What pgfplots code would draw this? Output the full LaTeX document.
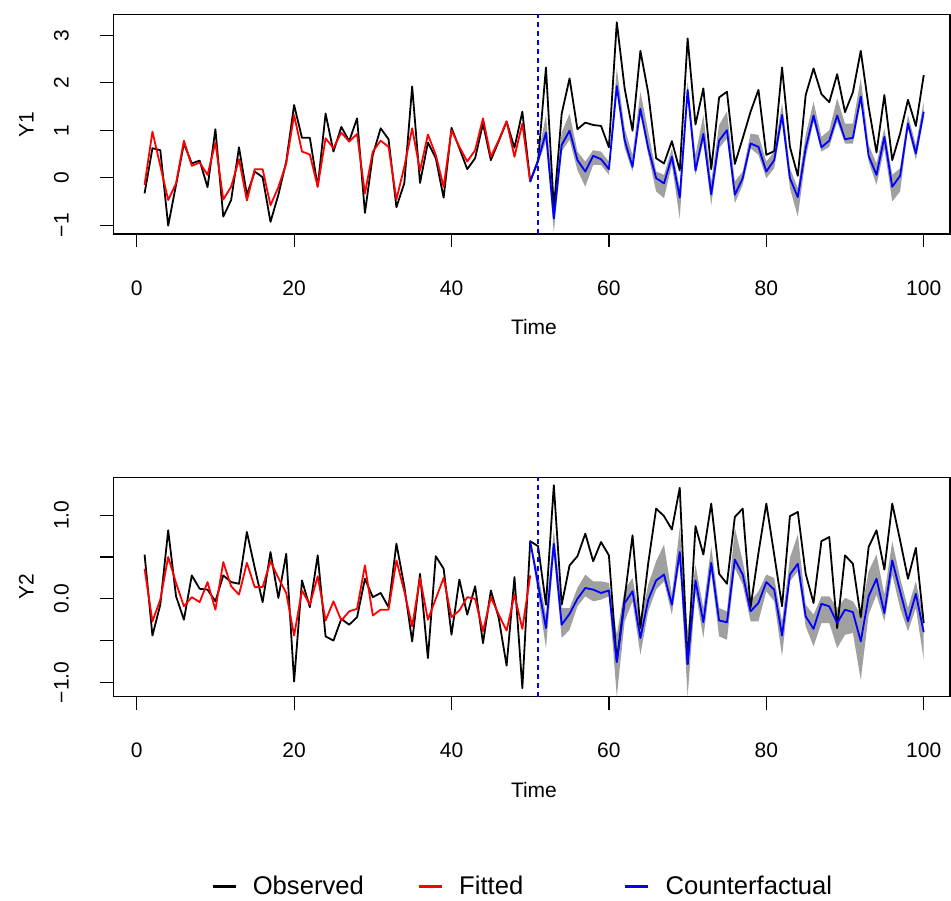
\documentclass[border=0pt]{standalone}
\usepackage{fontspec}
\setmainfont{Liberation Sans}
\usepackage{pgfplots}
\usepackage{pgfplotstable}
\pgfplotsset{compat=1.18}
\usepgfplotslibrary{fillbetween}

\definecolor{bandgray}{HTML}{A0A0A0}

% ---------------- Y1 ----------------
\pgfplotstableread{
t obs
1 -0.33
2 0.62
3 0.58
4 -1.01
5 -0.15
6 0.72
7 0.30
8 0.36
9 -0.20
10 1.02
11 -0.82
12 -0.47
13 0.64
14 -0.36
15 0.13
16 0.01
17 -0.93
18 -0.36
19 0.34
20 1.53
21 0.84
22 0.84
23 -0.19
24 1.35
25 0.55
26 1.07
27 0.77
28 1.25
29 -0.74
30 0.48
31 1.04
32 0.81
33 -0.62
34 -0.12
35 1.92
36 -0.11
37 0.74
38 0.41
39 -0.42
40 1.05
41 0.62
42 0.18
43 0.41
44 1.14
45 0.37
46 0.77
47 1.18
48 0.63
49 1.39
50 -0.08
51 0.36
52 2.32
53 -0.65
54 1.35
55 2.09
56 1.02
57 1.16
58 1.11
59 1.09
60 0.64
61 3.27
62 1.88
63 0.99
64 2.67
65 1.78
66 0.41
67 0.30
68 0.77
69 0.15
70 2.93
71 1.12
72 1.88
73 0.18
74 1.69
75 1.81
76 0.29
77 0.83
78 1.39
79 1.85
80 0.48
81 0.56
82 2.32
83 0.65
84 0.04
85 1.74
86 2.30
87 1.76
88 1.59
89 2.18
90 1.38
91 1.80
92 2.67
93 1.49
94 0.53
95 1.74
96 0.37
97 0.93
98 1.64
99 1.09
100 2.16
}\yoneobs

\pgfplotstableread{
t fit
1 -0.15
2 0.97
3 0.25
4 -0.47
5 -0.12
6 0.78
7 0.25
8 0.32
9 0.06
10 0.74
11 -0.46
12 -0.19
13 0.39
14 -0.48
15 0.18
16 0.18
17 -0.58
18 -0.20
19 0.30
20 1.32
21 0.55
22 0.49
23 -0.19
24 0.83
25 0.62
26 0.95
27 0.76
28 0.92
29 -0.33
30 0.55
31 0.78
32 0.65
33 -0.46
34 0.23
35 1.04
36 0.15
37 0.91
38 0.48
39 -0.19
40 1.00
41 0.65
42 0.34
43 0.58
44 1.25
45 0.44
46 0.79
47 1.19
48 0.44
49 1.14
50 -0.08
}\yonefit

\pgfplotstableread{
t cf lo hi
50 -0.08 -0.08 -0.08
51 0.36 0.30 0.45
52 0.95 0.76 1.32
53 -0.86 -1.14 -0.54
54 0.69 0.55 0.95
55 0.99 0.80 1.35
56 0.37 0.16 0.55
57 0.13 -0.19 0.34
58 0.46 0.27 0.58
59 0.39 0.27 0.55
60 0.18 0.06 0.34
61 1.93 1.81 2.30
62 0.79 0.62 1.04
63 0.23 0.13 0.48
64 1.45 1.32 1.81
65 0.62 0.48 0.97
66 -0.01 -0.29 0.13
67 -0.12 -0.43 0.06
68 0.44 0.27 0.62
69 -0.42 -0.86 -0.22
70 1.85 1.67 2.02
71 0.15 0.06 0.48
72 0.92 0.76 1.32
73 -0.35 -0.58 -0.08
74 0.78 0.62 1.11
75 1.00 0.83 1.39
76 -0.36 -0.54 -0.08
77 -0.01 -0.15 0.13
78 0.72 0.62 0.93
79 0.65 0.48 0.90
80 0.13 -0.01 0.34
81 0.37 0.20 0.55
82 1.32 1.18 1.57
83 -0.01 -0.22 0.20
84 -0.41 -0.82 -0.22
85 0.62 0.41 0.90
86 1.31 1.18 1.60
87 0.64 0.55 0.86
88 0.78 0.65 1.00
89 1.31 1.18 1.67
90 0.81 0.72 1.14
91 0.84 0.72 1.14
92 1.71 1.60 2.09
93 0.46 0.34 0.69
94 0.06 -0.15 0.30
95 0.86 0.62 1.04
96 -0.19 -0.50 0.06
97 0.04 -0.29 0.20
98 1.14 1.04 1.32
99 0.51 0.37 0.69
100 1.39 1.25 1.60
}\yonecf

% ---------------- Y2 ----------------
\pgfplotstableread{
t obs
1 0.53
2 -0.44
3 -0.07
4 0.82
5 0.03
6 -0.25
7 0.28
8 0.12
9 0.11
10 -0.03
11 0.28
12 0.20
13 0.18
14 0.80
15 0.37
16 -0.04
17 0.56
18 0.01
19 0.54
20 -0.99
21 0.22
22 -0.10
23 0.52
24 -0.45
25 -0.50
26 -0.24
27 -0.31
28 -0.22
29 0.24
30 0.02
31 0.07
32 -0.10
33 0.66
34 0.15
35 -0.51
36 0.30
37 -0.71
38 0.51
39 0.36
40 -0.43
41 0.23
42 -0.19
43 0.15
44 -0.53
45 0.10
46 -0.23
47 -0.80
48 0.26
49 -1.07
50 0.69
51 0.63
52 -0.07
53 1.36
54 -0.07
55 0.40
56 0.51
57 0.78
58 0.45
59 0.68
60 0.52
61 -0.75
62 0.01
63 0.76
64 -0.35
65 0.43
66 1.08
67 0.99
68 0.83
69 1.33
70 -0.78
71 0.87
72 0.53
73 1.14
74 0.30
75 0.18
76 0.98
77 1.08
78 -0.10
79 0.55
80 1.14
81 0.53
82 -0.09
83 0.99
84 1.04
85 0.30
86 -0.05
87 0.69
88 0.74
89 -0.35
90 0.52
91 0.42
92 -0.22
93 0.62
94 0.82
95 0.35
96 1.14
97 0.70
98 0.24
99 0.61
100 -0.29
}\ytwoobs

\pgfplotstableread{
t fit
1 0.36
2 -0.27
3 -0.01
4 0.50
5 0.19
6 -0.09
7 0.02
8 -0.04
9 0.20
10 -0.13
11 0.44
12 0.15
13 0.05
14 0.43
15 0.14
16 0.14
17 0.45
18 0.25
19 0.07
20 -0.44
21 0.10
22 -0.07
23 0.27
24 -0.26
25 -0.03
26 -0.26
27 -0.15
28 -0.12
29 0.40
30 -0.20
31 -0.13
32 -0.13
33 0.46
34 0.09
35 -0.33
36 0.25
37 -0.25
38 0.00
39 0.25
40 -0.22
41 -0.14
42 0.02
43 0.00
44 -0.39
45 0.02
46 -0.19
47 -0.38
48 0.05
49 -0.36
50 0.28
}\ytwofit

\pgfplotstableread{
t cf lo hi
50 0.69 0.69 0.69
51 0.17 0.05 0.30
52 -0.35 -0.59 -0.19
53 0.66 0.53 0.83
54 -0.31 -0.47 -0.11
55 -0.18 -0.37 -0.11
56 0.00 -0.09 0.13
57 0.13 0.03 0.29
58 0.11 -0.03 0.21
59 0.07 -0.01 0.21
60 0.10 0.03 0.19
61 -0.76 -1.17 -0.43
62 -0.05 -0.27 0.11
63 0.09 -0.03 0.25
64 -0.47 -0.67 -0.27
65 -0.01 -0.15 0.17
66 0.22 0.11 0.45
67 0.29 0.21 0.65
68 -0.07 -0.19 0.05
69 0.56 0.45 0.85
70 -0.78 -1.17 -0.39
71 0.22 0.09 0.41
72 -0.28 -0.47 -0.11
73 0.43 0.31 0.63
74 -0.26 -0.45 -0.11
75 -0.28 -0.49 -0.15
76 0.47 0.37 0.85
77 0.29 0.17 0.45
78 -0.15 -0.27 -0.03
79 -0.05 -0.27 0.09
80 0.20 0.09 0.29
81 0.11 -0.03 0.25
82 -0.44 -0.69 -0.27
83 0.29 0.21 0.49
84 0.42 0.33 0.77
85 -0.21 -0.33 -0.07
86 -0.36 -0.57 -0.19
87 -0.06 -0.29 0.03
88 -0.09 -0.29 0.03
89 -0.29 -0.59 -0.11
90 -0.13 -0.43 0.01
91 -0.16 -0.41 -0.03
92 -0.51 -0.97 -0.19
93 0.03 -0.19 0.33
94 0.24 0.05 0.53
95 -0.17 -0.27 0.05
96 0.46 0.29 0.69
97 0.09 -0.11 0.25
98 -0.27 -0.39 -0.11
99 0.06 -0.11 0.21
100 -0.40 -0.73 -0.23
}\ytwocf

\pgfplotsset{
  rpanel/.style={
    scale only axis,
    width=418.3pt, height=109.75pt,
    xmin=-2.96, xmax=103.34,
    axis line style={line width=0.6pt},
    every tick/.style={line width=0.6pt, black},
    tick align=outside,
    major tick length=6.5pt,
    xtick pos=bottom, ytick pos=left,
    xtick={0,20,40,60,80,100},
    xticklabels={0,20,40,60,80,100},
    xticklabel style={anchor=center, yshift=-20.5pt, font=\fontsize{10.5}{12}\selectfont},
    yticklabel style={xshift=-19.5pt, rotate=90, anchor=center, font=\fontsize{10.5}{12}\selectfont},
    xlabel style={at={(axis description cs:0.5027,-0.4237)}, anchor=center, font=\fontsize{10.5}{12}\selectfont},
    ylabel style={at={(axis description cs:-0.104,0.5)}, anchor=center, font=\fontsize{10.5}{12}\selectfont},
    xlabel={Time},
    clip=true,
  },
  obsline/.style={black, line width=0.9pt, line join=round},
  fitline/.style={red, line width=0.9pt, line join=round},
  cfline/.style={blue, line width=0.9pt, line join=round},
  vline/.style={blue, line width=0.7pt, dash pattern=on 2.5pt off 2pt},
}

\begin{document}
\begin{tikzpicture}

% ---------------- Top panel ----------------
\begin{axis}[rpanel,
  at={(56.7pt,333pt)}, anchor=south west,
  ymin=-1.185, ymax=3.436,
  ytick={-1,0,1,2,3},
  yticklabels={−1,0,1,2,3},
  ylabel={Y1},
]
\addplot[name path=uA, draw=none, forget plot] table[x=t, y=hi]{\yonecf};
\addplot[name path=lA, draw=none, forget plot] table[x=t, y=lo]{\yonecf};
\addplot[fill=bandgray, draw=none, forget plot] fill between[of=uA and lA];
\addplot[obsline] table[x=t, y=obs]{\yoneobs};
\addplot[fitline] table[x=t, y=fit]{\yonefit};
\addplot[cfline] table[x=t, y=cf]{\yonecf};
\addplot[vline, forget plot] coordinates {(51,-1.185) (51,3.436)};
\end{axis}

% ---------------- Bottom panel ----------------
\begin{axis}[rpanel,
  at={(56.7pt,101.65pt)}, anchor=south west,
  ymin=-1.172, ymax=1.456,
  ytick={-1,-0.5,0,0.5,1},
  yticklabels={−1.0,{},0.0,{},1.0},
  ylabel={Y2},
  legend columns=3,
  legend cell align=left,
  legend image code/.code={\draw[#1, line width=1.2pt] (0pt,0pt) -- (11.5pt,0pt);},
  legend style={
    at={(0.1167,-0.8644)}, anchor=west,
    draw=none, fill=none,
    inner xsep=0pt, inner ysep=0pt,
    cells={anchor=west},
    nodes={inner sep=0pt},
    font=\fontsize{12.8}{14}\selectfont,
    /tikz/every odd column/.append style={column sep=8pt},
    /tikz/every even column/.append style={column sep=0.5pt},
  },
]
\addplot[name path=uB, draw=none, forget plot] table[x=t, y=hi]{\ytwocf};
\addplot[name path=lB, draw=none, forget plot] table[x=t, y=lo]{\ytwocf};
\addplot[fill=bandgray, draw=none, forget plot] fill between[of=uB and lB];
\addplot[obsline] table[x=t, y=obs]{\ytwoobs};
\addlegendentry{\makebox[82pt][l]{Observed}}
\addplot[fitline] table[x=t, y=fit]{\ytwofit};
\addlegendentry{\makebox[82pt][l]{Fitted}}
\addplot[cfline] table[x=t, y=cf]{\ytwocf};
\addlegendentry{\makebox[82pt][l]{Counterfactual}}
\addplot[vline, forget plot] coordinates {(51,-1.172) (51,1.456)};
\end{axis}

\pgfresetboundingbox
\path[use as bounding box] (0,0) rectangle (475.5pt,450pt);
\end{tikzpicture}
\end{document}
